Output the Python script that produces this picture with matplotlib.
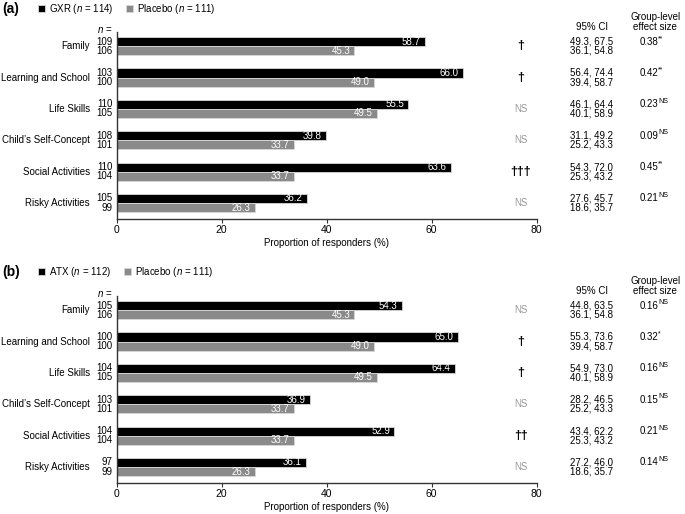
import numpy as np
import matplotlib
matplotlib.use("Agg")
from matplotlib import pyplot as plt

plt.rcParams['font.family'] = ['Liberation Sans', 'DejaVu Sans']
plt.rcParams['mathtext.fontset'] = 'custom'
plt.rcParams['mathtext.rm'] = 'Liberation Sans'
plt.rcParams['mathtext.it'] = 'Liberation Sans:italic'
plt.rcParams['font.size'] = 7

# data
categories = ["Family", "Learning and School", "Life Skills",
              "Child\u2019s Self-Concept", "Social Activities", "Risky Activities"]

placebo_n = [106, 100, 105, 101, 104, 99]
placebo_pct = [45.3, 49.0, 49.5, 33.7, 33.7, 26.3]
placebo_ci = ["36.1, 54.8", "39.4, 58.7", "40.1, 58.9", "25.2, 43.3", "25.3, 43.2", "18.6, 35.7"]

gxr_n = [109, 103, 110, 108, 110, 105]
gxr_pct = [58.7, 66.0, 55.5, 39.8, 63.6, 36.2]
gxr_ci = ["49.3, 67.5", "56.4, 74.4", "46.1, 64.4", "31.1, 49.2", "54.3, 72.0", "27.6, 45.7"]
gxr_sig = ["\u2020", "\u2020", "NS", "NS", "\u2020\u2020\u2020", "NS"]
gxr_es = ["0.38", "0.42", "0.23", "0.09", "0.45", "0.21"]
gxr_es_sup = ["**", "**", "NS", "NS", "**", "NS"]

atx_n = [105, 100, 104, 103, 104, 97]
atx_pct = [54.3, 65.0, 64.4, 36.9, 52.9, 36.1]
atx_ci = ["44.8, 63.5", "55.3, 73.6", "54.9, 73.0", "28.2, 46.5", "43.4, 62.2", "27.2, 46.0"]
atx_sig = ["NS", "\u2020", "\u2020", "NS", "\u2020\u2020", "NS"]
atx_es = ["0.16", "0.32", "0.16", "0.15", "0.21", "0.14"]
atx_es_sup = ["NS", "*", "NS", "NS", "NS", "NS"]

xticks = [0, 20, 40, 60, 80]

fig = plt.figure(figsize=(6.85, 5.14), dpi=100)

h = 0.29  # bar height


def panel(ax, tag, drug, drug_total, n1, pct1, ci1, sig, es, es_sup, tag_y):
    y = np.arange(len(categories))
    b1 = ax.barh(y - h/2, pct1, height=h, color='black', edgecolor='#d8d8d8', linewidth=0.6,
                 label=r'%s ($\it{n}$ = %d)' % (drug, drug_total))
    b2 = ax.barh(y + h/2, placebo_pct, height=h, color='#8a8a8a', edgecolor='#d8d8d8', linewidth=0.6,
                 label=r'Placebo ($\it{n}$ = 111)')
    ax.set_xlim(0, 80)
    ax.set_ylim(5.51, -0.45)
    ax.set_xticks(xticks)
    ax.set_yticks([])
    for s in ['top', 'right']:
        ax.spines[s].set_visible(False)
    for s in ['left', 'bottom']:
        ax.spines[s].set_color('#333333')
        ax.spines[s].set_linewidth(1.0)
    ax.tick_params(axis='x', length=3, color='#333333', labelsize=7.5, pad=1.5)
    ax.set_xlabel("Proportion of responders (%)", fontsize=7, labelpad=2)

    for i in range(len(categories)):
        # value labels inside bars
        ax.text(pct1[i] - 0.8, y[i] - h/2, "%.1f" % pct1[i], color='white', ha='right',
                va='center', fontsize=7)
        ax.text(placebo_pct[i] - 0.8, y[i] + h/2, "%.1f" % placebo_pct[i], color='white',
                ha='right', va='center', fontsize=7)
        # category + n labels
        ax.text(-5.1, y[i], categories[i], ha='right', va='center', clip_on=False)
        ax.text(-0.8, y[i] - h/2, str(n1[i]), ha='right', va='center', clip_on=False)
        ax.text(-0.8, y[i] + h/2, str(placebo_n[i]), ha='right', va='center', clip_on=False)
        # significance
        if sig[i] == "NS":
            ax.text(77, y[i], "NS", ha='center', va='center', color='#999999', clip_on=False)
        else:
            ax.text(77, y[i], sig[i], ha='center', va='center', color='black', fontsize=9,
                    fontweight='bold', clip_on=False)
        # CI
        ax.text(90.5, y[i] - h/2, ci1[i], ha='center', va='center', clip_on=False)
        ax.text(90.5, y[i] + h/2, placebo_ci[i], ha='center', va='center', clip_on=False)
        # effect size with superscript
        t = ax.text(99.6, y[i] - h/2, es[i], ha='left', va='center', clip_on=False)
        ax.annotate(es_sup[i], xy=(1.0, 0.8), xycoords=t, fontsize=5, ha='left',
                    va='center', annotation_clip=False)

    ax.text(-0.8, -0.5, r'$\it{n}$ =', ha='right', va='center', clip_on=False)
    ax.text(90.5, -0.6, "95% CI", ha='center', va='center', clip_on=False)
    ax.text(102.6, -0.6, "effect size", ha='center', va='center', clip_on=False)
    ax.text(102.6, -0.93, "Group-level", ha='center', va='center', clip_on=False)

    fig.text(0.003, tag_y, tag, fontsize=10, fontweight='bold', va='center')
    ax.legend(handles=[b1, b2], loc='center left', bbox_to_anchor=(0.043, tag_y),
              bbox_transform=fig.transFigure, ncol=2, frameon=False, handlelength=0.7,
              handleheight=0.7, handletextpad=0.4, columnspacing=1.3, fontsize=7)


ax1 = fig.add_axes([0.1703, 0.5739, 0.6131, 0.3638])
panel(ax1, "(a)", "GXR", 114, gxr_n, gxr_pct, gxr_ci, gxr_sig, gxr_es, gxr_es_sup, 1 - 9/514)

ax2 = fig.add_axes([0.1703, 0.0603, 0.6131, 0.3638])
panel(ax2, "(b)", "ATX", 112, atx_n, atx_pct, atx_ci, atx_sig, atx_es, atx_es_sup, 1 - 272/514)

plt.savefig("out.png", dpi=100)
